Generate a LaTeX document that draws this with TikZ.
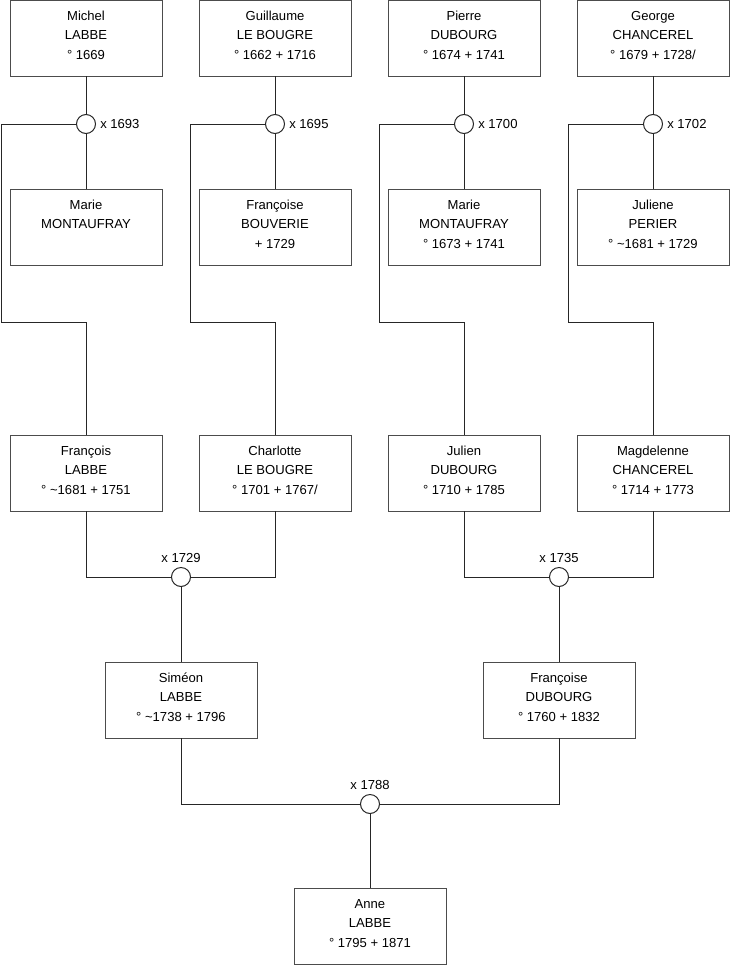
\documentclass[tikz,border=0pt]{standalone}
\usepackage{fontspec}
\setmainfont{Liberation Sans}
\newcommand\personbox[1]{\parbox[c][57pt][t]{114pt}{\fontsize{9.8pt}{14.6pt}\selectfont\centering\rule{0pt}{15.2pt}#1\par}}
\begin{document}
\begin{tikzpicture}[x=0.75pt,y=-0.75pt,
  person/.style={draw=black!70, line width=0.75pt, fill=white, minimum width=114pt, minimum height=57pt, inner sep=0pt, outer sep=0pt, anchor=north west},
  wed/.style={circle, draw=black!85, fill=white, line width=0.75pt, minimum size=14.25pt, inner sep=0pt, outer sep=0pt},
  lbl/.style={inner sep=0pt, font=\fontsize{9.8pt}{11pt}\selectfont},
  link/.style={draw=black!85, line width=0.75pt}]
\useasboundingbox (0,0) rectangle (740,975);

% top row
\node[person] (michel) at (10,0) {\personbox{Michel\\LABBE\\° 1669}};
\node[person] (guillaume) at (199,0) {\personbox{Guillaume\\LE BOUGRE\\° 1662 + 1716}};
\node[person] (pierre) at (388,0) {\personbox{Pierre\\DUBOURG\\° 1674 + 1741}};
\node[person] (george) at (577,0) {\personbox{George\\CHANCEREL\\° 1679 + 1728/}};

% second row
\node[person] (marie1) at (10,189) {\personbox{Marie\\MONTAUFRAY}};
\node[person] (francoiseb) at (199,189) {\personbox{Françoise\\BOUVERIE\\+ 1729}};
\node[person] (marie2) at (388,189) {\personbox{Marie\\MONTAUFRAY\\° 1673 + 1741}};
\node[person] (juliene) at (577,189) {\personbox{Juliene\\PERIER\\° \textasciitilde1681 + 1729}};

% third row
\node[person] (francois) at (10,435) {\personbox{François\\LABBE\\° \textasciitilde1681 + 1751}};
\node[person] (charlotte) at (199,435) {\personbox{Charlotte\\LE BOUGRE\\° 1701 + 1767/}};
\node[person] (julien) at (388,435) {\personbox{Julien\\DUBOURG\\° 1710 + 1785}};
\node[person] (magdelenne) at (577,435) {\personbox{Magdelenne\\CHANCEREL\\° 1714 + 1773}};

% fourth row
\node[person] (simeon) at (105,662) {\personbox{Siméon\\LABBE\\° \textasciitilde1738 + 1796}};
\node[person] (francoised) at (483,662) {\personbox{Françoise\\DUBOURG\\° 1760 + 1832}};

% bottom
\node[person] (anne) at (294,888) {\personbox{Anne\\LABBE\\° 1795 + 1871}};

% marriage circles
\node[wed] (w1) at (86,124) {};
\node[wed] (w2) at (275,124) {};
\node[wed] (w3) at (464,124) {};
\node[wed] (w4) at (653,124) {};
\node[wed] (w5) at (181,577) {};
\node[wed] (w6) at (559,577) {};
\node[wed] (w7) at (370,804) {};

% bend coordinates
\coordinate (k1) at (1,322);
\coordinate (k2) at (190,322);
\coordinate (k3) at (379,322);
\coordinate (k4) at (568,322);

% connectors top
\draw[link] (michel.south) -- (w1.north);
\draw[link] (w1.south) -- (marie1.north);
\draw[link] (w1.west) -| (k1) -| (francois.north);
\draw[link] (guillaume.south) -- (w2.north);
\draw[link] (w2.south) -- (francoiseb.north);
\draw[link] (w2.west) -| (k2) -| (charlotte.north);
\draw[link] (pierre.south) -- (w3.north);
\draw[link] (w3.south) -- (marie2.north);
\draw[link] (w3.west) -| (k3) -| (julien.north);
\draw[link] (george.south) -- (w4.north);
\draw[link] (w4.south) -- (juliene.north);
\draw[link] (w4.west) -| (k4) -| (magdelenne.north);

% connectors middle
\draw[link] (francois.south) |- (w5.west);
\draw[link] (charlotte.south) |- (w5.east);
\draw[link] (w5.south) -- (simeon.north);
\draw[link] (julien.south) |- (w6.west);
\draw[link] (magdelenne.south) |- (w6.east);
\draw[link] (w6.south) -- (francoised.north);

% connectors bottom
\draw[link] (simeon.south) |- (w7.west);
\draw[link] (francoised.south) |- (w7.east);
\draw[link] (w7.south) -- (anne.north);

% labels
\node[lbl, anchor=west] (l1) at ([xshift=3.4pt]w1.east) {x 1693};
\node[lbl, anchor=west] (l2) at ([xshift=3.4pt]w2.east) {x 1695};
\node[lbl, anchor=west] (l3) at ([xshift=3.4pt]w3.east) {x 1700};
\node[lbl, anchor=west] (l4) at ([xshift=3.4pt]w4.east) {x 1702};
\node[lbl, anchor=base] (l5) at ([yshift=3.4pt]w5.north) {x 1729};
\node[lbl, anchor=base] (l6) at ([yshift=3.4pt]w6.north) {x 1735};
\node[lbl, anchor=base] (l7) at ([yshift=3.4pt]w7.north) {x 1788};
\end{tikzpicture}
\end{document}
